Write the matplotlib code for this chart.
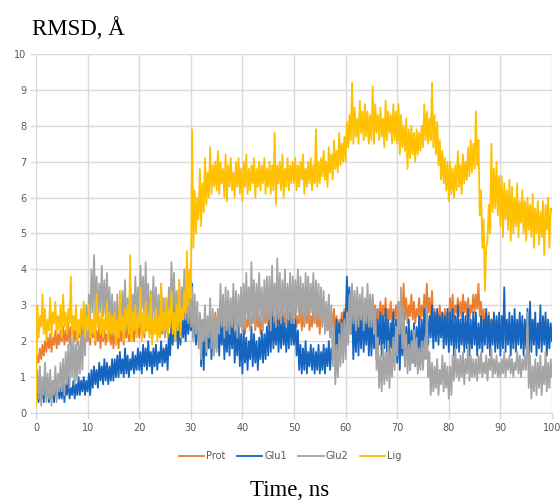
import numpy as np
import matplotlib
matplotlib.use('Agg')
import matplotlib.pyplot as plt

# time axis, 0.25 ns steps (one row = 5 ns)
time_ns = np.arange(0, 100.25, 0.25)

prot = [
    1.3, 1.6, 1.4, 1.8, 1.5, 1.9, 1.6, 2.0, 1.7, 2.1, 1.8, 2.2, 1.7, 2.1, 1.9, 2.3, 1.8, 2.2, 1.9, 2.3,
    2.0, 2.4, 1.9, 2.3, 2.0, 2.5, 1.9, 2.4, 2.1, 2.5, 2.0, 2.3, 1.9, 2.4, 2.1, 2.5, 2.0, 2.3, 1.9, 2.4,
    2.0, 2.3, 1.9, 2.5, 2.1, 2.4, 1.9, 2.3, 2.0, 2.4, 1.8, 2.3, 2.0, 2.4, 1.9, 2.2, 2.0, 2.4, 1.9, 2.3,
    1.8, 2.2, 1.9, 2.3, 1.8, 2.4, 2.0, 2.5, 1.9, 2.3, 2.1, 2.5, 2.0, 2.4, 2.1, 2.6, 2.0, 2.4, 2.2, 2.5,
    2.1, 2.6, 2.2, 2.5, 2.1, 2.6, 2.3, 2.7, 2.2, 2.5, 2.1, 2.6, 2.3, 2.7, 2.2, 2.6, 2.1, 2.5, 2.2, 2.6,
    2.3, 2.7, 2.2, 2.6, 2.4, 2.8, 2.3, 2.7, 2.2, 2.6, 2.4, 2.8, 2.3, 2.7, 2.5, 2.9, 2.4, 2.8, 2.5, 2.9,
    2.4, 2.9, 2.3, 2.8, 2.2, 2.6, 2.1, 2.7, 2.3, 2.6, 2.2, 2.7, 2.1, 2.6, 2.3, 2.7, 2.2, 2.6, 2.3, 2.8,
    2.2, 2.7, 2.4, 2.8, 2.3, 2.6, 2.2, 2.7, 2.4, 2.9, 2.3, 2.7, 2.2, 2.6, 2.4, 2.8, 2.3, 2.7, 2.4, 2.9,
    2.3, 2.7, 2.2, 2.6, 2.4, 2.8, 2.3, 2.7, 2.5, 2.9, 2.3, 2.8, 2.4, 2.7, 2.2, 2.6, 2.4, 2.8, 2.5, 2.9,
    2.4, 2.8, 2.5, 3.0, 2.4, 2.7, 2.3, 2.9, 2.5, 2.8, 2.4, 3.0, 2.3, 2.8, 2.5, 2.9, 2.4, 2.8, 2.5, 3.0,
    2.3, 2.9, 2.4, 2.7, 2.5, 3.0, 2.3, 2.8, 2.4, 2.9, 2.5, 3.0, 2.3, 2.7, 2.4, 2.9, 2.5, 2.8, 2.4, 2.9,
    2.2, 2.8, 2.5, 3.0, 2.4, 2.7, 2.3, 2.6, 2.2, 2.8, 2.4, 2.9, 2.3, 2.7, 2.2, 2.6, 2.4, 2.8, 2.5, 2.9,
    2.5, 3.1, 2.6, 2.9, 2.4, 2.8, 2.5, 3.0, 2.6, 2.9, 2.5, 3.1, 2.4, 2.8, 2.6, 3.0, 2.5, 2.9, 2.6, 3.0,
    2.5, 3.2, 2.7, 3.0, 2.4, 2.9, 2.6, 3.1, 2.5, 3.0, 2.7, 3.2, 2.5, 2.9, 2.6, 3.1, 2.4, 2.9, 2.6, 3.0,
    2.6, 3.1, 2.5, 3.0, 2.7, 3.6, 2.6, 3.2, 2.5, 3.0, 2.7, 3.3, 2.6, 3.1, 2.5, 2.9, 2.7, 3.2, 2.6, 3.0,
    2.7, 3.3, 2.6, 3.6, 2.8, 3.2, 2.6, 3.4, 2.5, 2.9, 2.4, 2.8, 2.6, 3.0, 2.5, 2.8, 2.4, 2.9, 2.5, 2.8,
    2.6, 3.2, 2.7, 3.3, 2.6, 3.0, 2.8, 3.2, 2.7, 3.1, 2.6, 3.3, 2.8, 3.1, 2.7, 3.2, 2.6, 3.0, 2.8, 3.3,
    2.8, 3.3, 2.9, 3.6, 2.7, 3.1, 2.5, 2.9, 2.3, 2.7, 2.4, 2.8, 2.2, 2.6, 2.3, 2.7, 2.2, 2.6, 2.1, 2.5,
    2.1, 2.5, 2.2, 2.6, 2.0, 2.4, 2.1, 2.5, 2.2, 2.6, 2.0, 2.4, 2.1, 2.5, 2.2, 2.6, 2.1, 2.4, 2.0, 2.5,
    2.1, 2.4, 2.0, 2.5, 2.2, 2.6, 2.1, 2.4, 2.0, 2.5, 2.2, 2.5, 2.1, 2.4, 2.0, 2.6, 2.1, 2.5, 2.2, 2.4,
    2.2,
]

glu1 = [
    0.4, 0.8, 0.3, 0.9, 0.4, 0.7, 0.3, 1.0, 0.5, 0.8, 0.3, 0.7, 0.4, 0.9, 0.3, 0.8, 0.5, 1.0, 0.4, 0.7,
    0.4, 0.9, 0.3, 0.8, 0.5, 1.0, 0.4, 0.7, 0.5, 0.9, 0.4, 0.8, 0.5, 1.0, 0.5, 0.9, 0.6, 1.0, 0.5, 0.9,
    0.6, 1.1, 0.5, 1.2, 0.7, 1.3, 0.8, 1.2, 0.7, 1.4, 0.9, 1.3, 0.8, 1.5, 0.9, 1.4, 0.8, 1.3, 0.9, 1.5,
    0.9, 1.5, 1.0, 1.6, 1.0, 1.7, 1.1, 1.5, 1.0, 1.8, 1.1, 1.6, 1.0, 1.5, 1.2, 1.7, 1.1, 1.6, 1.2, 1.8,
    1.2, 1.7, 1.1, 1.9, 1.3, 1.8, 1.2, 2.0, 1.3, 1.7, 1.1, 1.8, 1.3, 1.9, 1.2, 1.7, 1.4, 2.0, 1.3, 1.8,
    1.4, 1.9, 1.2, 2.2, 1.6, 2.6, 1.9, 3.0, 2.0, 2.6, 1.8, 2.5, 1.9, 2.7, 2.1, 2.6, 2.0, 2.8, 2.2, 2.7,
    2.3, 3.6, 2.1, 2.8, 1.9, 2.6, 2.0, 2.7, 1.3, 2.5, 1.2, 2.4, 1.6, 2.6, 1.8, 2.7, 1.5, 2.4, 1.7, 2.5,
    1.8, 2.7, 1.6, 2.5, 1.9, 2.8, 1.5, 2.4, 1.7, 2.6, 1.6, 2.5, 1.8, 2.7, 1.4, 2.3, 1.6, 2.5, 1.3, 2.2,
    1.1, 2.3, 1.4, 2.1, 1.2, 2.0, 1.5, 2.4, 1.3, 2.2, 1.4, 2.0, 1.2, 2.1, 1.5, 2.3, 1.4, 2.2, 1.5, 2.4,
    1.6, 2.6, 1.7, 2.8, 1.8, 2.5, 1.9, 2.7, 1.7, 2.6, 1.8, 2.7, 1.9, 2.5, 1.7, 2.6, 1.8, 2.8, 1.9, 2.6,
    1.9, 2.6, 1.6, 2.3, 1.2, 1.9, 1.1, 1.8, 1.2, 2.0, 1.1, 1.7, 1.3, 1.9, 1.2, 1.8, 1.1, 1.7, 1.2, 1.9,
    1.1, 1.7, 1.2, 1.9, 1.1, 1.8, 1.3, 2.0, 1.2, 1.8, 1.5, 2.4, 1.7, 2.6, 1.6, 2.5, 1.8, 2.6, 1.9, 2.8,
    2.4, 3.8, 2.8, 3.5, 2.2, 3.0, 1.5, 2.6, 1.7, 2.8, 1.6, 2.7, 1.8, 2.9, 1.7, 2.6, 1.9, 2.8, 1.6, 2.7,
    1.6, 2.7, 1.8, 2.9, 1.5, 2.6, 1.9, 2.8, 1.6, 2.7, 1.8, 2.9, 1.7, 2.6, 1.5, 2.5, 1.8, 2.8, 1.6, 2.6,
    1.4, 2.6, 1.2, 2.5, 1.6, 2.8, 1.3, 2.4, 1.5, 2.6, 1.2, 2.3, 1.4, 2.5, 1.3, 2.4, 1.6, 2.7, 1.5, 2.6,
    1.8, 2.9, 2.0, 2.8, 1.9, 2.7, 2.1, 3.0, 1.8, 2.8, 2.0, 2.9, 1.9, 2.7, 2.1, 2.8, 1.8, 2.7, 1.9, 2.9,
    1.7, 2.8, 1.9, 2.9, 1.6, 2.7, 1.8, 3.0, 1.7, 2.6, 1.9, 2.8, 1.7, 2.7, 1.8, 2.9, 1.6, 2.6, 1.8, 2.8,
    1.9, 2.8, 1.6, 2.5, 1.8, 2.7, 1.7, 2.6, 1.9, 2.9, 1.8, 2.7, 1.6, 2.6, 1.9, 2.8, 1.7, 2.7, 1.8, 2.8,
    1.6, 2.7, 1.8, 3.5, 1.7, 2.6, 1.9, 2.8, 1.6, 2.7, 1.8, 2.9, 1.7, 2.6, 1.9, 2.8, 1.8, 2.7, 1.6, 2.6,
    1.8, 2.9, 1.6, 3.1, 1.7, 2.6, 1.9, 2.8, 1.6, 2.5, 1.8, 3.0, 1.7, 2.7, 1.9, 2.8, 1.6, 2.6, 1.8, 2.5,
    2.0,
]

glu2 = [
    0.3, 1.2, 0.4, 1.3, 0.2, 1.0, 0.5, 1.4, 0.3, 1.1, 0.4, 1.2, 0.2, 0.9, 0.5, 1.3, 0.3, 1.1, 0.6, 1.4,
    0.6, 1.5, 0.5, 1.7, 0.8, 1.9, 0.7, 2.1, 1.0, 2.2, 0.8, 1.9, 0.9, 2.0, 1.1, 2.2, 1.2, 2.6, 1.6, 3.0,
    2.0, 3.3, 2.6, 4.0, 2.8, 4.4, 2.7, 3.8, 2.5, 3.6, 2.8, 4.1, 2.7, 3.7, 2.6, 3.9, 2.5, 3.5, 2.3, 3.3,
    2.2, 3.1, 2.0, 3.3, 2.1, 3.0, 2.3, 3.4, 2.4, 3.7, 2.3, 3.2, 2.5, 3.6, 2.4, 3.3, 2.6, 3.8, 2.5, 3.5,
    2.6, 4.1, 2.9, 3.8, 2.5, 4.2, 2.7, 3.6, 2.4, 3.4, 2.6, 3.8, 2.5, 3.5, 2.3, 3.3, 2.4, 3.6, 2.2, 3.2,
    2.1, 3.2, 2.3, 3.5, 2.6, 4.2, 2.8, 3.9, 2.5, 3.4, 2.7, 3.7, 2.6, 3.5, 2.8, 4.0, 2.6, 3.6, 2.5, 3.5,
    2.4, 3.5, 2.0, 3.3, 2.2, 3.1, 1.8, 2.8, 1.5, 2.6, 2.0, 3.0, 1.7, 2.7, 2.1, 3.2, 1.8, 2.9, 1.6, 2.7,
    1.7, 2.9, 2.2, 3.6, 2.4, 3.3, 2.1, 3.5, 2.3, 3.4, 2.2, 3.2, 2.4, 3.6, 2.3, 3.4, 2.1, 3.3, 2.4, 3.5,
    2.2, 3.6, 2.4, 3.9, 2.6, 3.5, 2.3, 4.2, 2.5, 3.7, 2.4, 3.6, 2.6, 3.9, 2.5, 3.5, 2.3, 3.7, 2.6, 3.8,
    2.6, 3.8, 2.3, 4.1, 2.7, 3.6, 2.4, 4.3, 2.6, 3.9, 2.5, 3.7, 2.7, 4.0, 2.4, 3.6, 2.6, 3.9, 2.5, 3.8,
    2.5, 3.7, 2.8, 4.0, 2.6, 3.8, 2.7, 3.6, 2.5, 3.9, 2.7, 3.8, 2.6, 3.6, 2.8, 3.9, 2.5, 3.7, 2.6, 3.6,
    2.6, 3.5, 2.4, 3.4, 2.2, 3.1, 2.3, 3.3, 2.1, 3.0, 1.3, 2.4, 0.8, 1.9, 1.0, 2.2, 1.3, 2.5, 1.4, 2.6,
    1.5, 2.8, 1.9, 3.3, 2.2, 3.6, 2.5, 3.4, 2.3, 3.5, 2.4, 3.3, 2.6, 3.5, 2.3, 3.2, 2.5, 3.6, 2.4, 3.3,
    2.4, 3.3, 2.2, 2.9, 1.2, 2.1, 0.7, 1.6, 0.6, 1.9, 0.8, 1.7, 0.9, 2.0, 0.7, 1.8, 1.0, 2.1, 1.2, 2.4,
    1.6, 3.1, 2.2, 3.5, 1.8, 2.9, 1.3, 2.2, 1.1, 1.9, 1.2, 2.0, 1.4, 2.3, 1.3, 2.1, 1.1, 1.8, 1.2, 2.0,
    1.2, 2.0, 1.5, 2.9, 1.0, 1.7, 0.5, 1.4, 0.6, 1.3, 0.7, 1.5, 0.5, 1.2, 0.8, 1.6, 0.6, 1.4, 0.7, 1.3,
    0.4, 1.3, 0.5, 1.6, 0.9, 1.8, 1.0, 1.5, 0.9, 1.6, 1.0, 1.7, 0.8, 1.5, 1.1, 1.9, 0.9, 1.6, 1.0, 1.5,
    1.0, 1.5, 0.9, 1.6, 1.1, 1.7, 1.0, 1.4, 1.1, 1.6, 0.9, 1.5, 1.2, 1.8, 1.0, 1.5, 1.1, 1.6, 1.0, 1.4,
    1.0, 1.5, 1.1, 1.7, 1.0, 1.5, 1.2, 1.6, 1.1, 1.5, 1.0, 1.4, 1.2, 1.7, 1.1, 1.6, 1.0, 1.5, 1.2, 1.6,
    1.2, 2.8, 0.7, 1.6, 0.4, 1.3, 0.6, 1.5, 0.5, 1.4, 0.7, 1.6, 0.5, 1.3, 0.8, 1.7, 0.6, 1.4, 0.7, 1.5,
    1.0,
]

lig = [
    0.2, 3.0, 2.1, 2.7, 2.4, 3.3, 2.2, 2.9, 2.0, 2.6, 2.3, 3.2, 2.1, 2.8, 2.5, 3.1, 2.2, 2.7, 2.3, 3.0,
    2.1, 3.3, 2.4, 2.8, 2.2, 2.9, 2.5, 3.8, 2.1, 2.7, 2.3, 3.0, 2.0, 2.6, 2.2, 2.9, 2.4, 3.1, 2.1, 2.7,
    2.3, 3.0, 2.1, 2.6, 2.2, 2.8, 2.0, 3.3, 2.4, 2.7, 2.2, 2.9, 2.1, 2.6, 2.3, 3.1, 2.0, 2.8, 2.2, 2.7,
    2.2, 2.8, 1.9, 2.6, 2.1, 3.4, 2.3, 2.7, 2.0, 2.9, 2.4, 3.0, 2.2, 4.4, 2.0, 2.8, 2.3, 3.0, 2.1, 2.7,
    2.4, 3.5, 2.0, 2.8, 2.2, 3.1, 2.3, 2.7, 2.1, 3.3, 1.9, 2.6, 2.2, 2.9, 2.0, 2.7, 2.1, 3.6, 2.3, 2.8,
    2.3, 3.2, 2.1, 2.9, 2.4, 3.4, 2.2, 2.8, 2.0, 3.0, 2.3, 3.7, 2.1, 2.9, 2.6, 3.4, 2.8, 4.5, 3.0, 4.0,
    3.2, 7.9, 4.6, 6.2, 5.0, 6.0, 5.4, 6.8, 5.2, 6.4, 5.6, 7.1, 5.8, 6.7, 6.0, 7.4, 6.1, 6.9, 6.3, 7.0,
    6.2, 7.3, 6.1, 7.0, 6.4, 6.8, 6.0, 7.2, 5.9, 6.9, 6.3, 7.1, 6.2, 6.7, 6.0, 7.0, 6.3, 7.1, 6.1, 6.8,
    5.9, 7.0, 6.3, 7.2, 6.1, 6.8, 6.2, 6.9, 6.4, 7.1, 6.0, 6.8, 6.3, 7.0, 6.2, 6.9, 6.4, 7.1, 6.1, 6.8,
    6.3, 7.0, 6.1, 6.9, 6.2, 7.8, 5.8, 6.9, 6.4, 7.0, 6.2, 7.2, 6.0, 6.8, 6.3, 7.1, 6.2, 6.9, 6.4, 7.0,
    6.4, 7.1, 6.2, 6.9, 6.3, 7.0, 6.5, 7.2, 6.1, 6.8, 6.3, 7.0, 6.4, 7.1, 6.2, 6.9, 6.4, 7.9, 6.3, 7.0,
    6.4, 7.1, 6.6, 7.3, 6.5, 7.0, 6.3, 7.4, 6.7, 7.2, 6.5, 7.6, 6.8, 7.3, 6.7, 7.8, 6.9, 7.5, 7.0, 7.7,
    7.0, 8.1, 7.4, 8.3, 7.6, 9.2, 7.5, 8.5, 7.7, 8.2, 7.5, 8.7, 7.8, 8.4, 7.6, 8.6, 7.7, 8.4, 7.5, 8.3,
    7.6, 9.1, 7.5, 8.6, 7.8, 8.3, 7.6, 8.5, 7.7, 8.2, 7.4, 8.7, 7.6, 8.4, 7.8, 8.3, 7.5, 8.6, 7.6, 8.4,
    7.5, 8.6, 7.2, 8.3, 7.4, 8.0, 7.3, 8.2, 6.8, 7.9, 7.1, 8.0, 7.2, 7.8, 7.0, 7.9, 7.2, 7.8, 7.3, 8.0,
    7.4, 8.6, 7.6, 8.4, 7.5, 8.2, 7.6, 9.2, 7.4, 8.3, 7.2, 8.1, 6.9, 7.6, 6.5, 7.3, 6.4, 7.1, 6.2, 7.0,
    5.9, 7.0, 6.1, 6.8, 6.0, 6.9, 6.2, 7.3, 6.3, 6.9, 6.1, 7.2, 6.4, 7.0, 6.5, 7.4, 6.6, 7.6, 6.7, 7.5,
    6.8, 8.4, 6.9, 7.6, 5.5, 6.2, 4.6, 5.4, 3.4, 4.6, 4.8, 5.8, 5.0, 7.5, 5.6, 6.8, 5.7, 7.0, 5.5, 6.6,
    5.2, 6.6, 4.9, 6.4, 5.4, 6.2, 5.1, 6.5, 4.8, 6.3, 5.0, 6.0, 5.2, 6.4, 4.9, 5.9, 5.3, 6.2, 5.0, 5.9,
    4.8, 6.0, 5.1, 5.8, 4.9, 6.1, 4.6, 5.7, 5.0, 5.9, 4.7, 5.6, 4.9, 5.9, 4.4, 5.8, 5.1, 6.0, 4.6, 5.7,
    5.6,
]

series_names = ['Prot', 'Glu1', 'Glu2', 'Lig']
series_colors = ['#ED7D31', '#1565C0', '#A5A5A5', '#FFC000']
x_ticks = list(range(0, 101, 10))
y_ticks = list(range(0, 11))

fig = plt.figure(figsize=(5.6, 5.04), dpi=100)
ax = fig.add_axes([0.0643, 0.1806, 0.9214, 0.7123])

for vals, name, col in zip([prot, glu1, glu2, lig], series_names, series_colors):
    ax.plot(time_ns, vals, color=col, lw=1.3, label=name)

ax.set_xlim(0, 100)
ax.set_ylim(0, 10)
ax.set_xticks(x_ticks)
ax.set_yticks(y_ticks)
ax.grid(True, color='#D9D9D9', lw=1.0)
ax.set_axisbelow(True)
for s in ['top', 'right', 'left']:
    ax.spines[s].set_visible(False)
ax.spines['bottom'].set_color('#D9D9D9')
ax.tick_params(axis='both', colors='#D9D9D9', labelcolor='#595959', labelsize=7, length=4, width=1)
ax.tick_params(axis='y', pad=3)

fig.text(0.057, 0.944, 'RMSD, Å', family='Liberation Serif', fontsize=16.5, va='center', ha='left')
fig.text(0.518, 0.027, 'Time, ns', family='Liberation Serif', fontsize=16.5, va='center', ha='center')

fig.legend(loc='center', bbox_to_anchor=(0.518, 0.095), ncol=4, frameon=False,
           fontsize=7, labelcolor='#595959', handlelength=2.6, handletextpad=0.2, columnspacing=1.2)

plt.savefig('out.png', dpi=100)
